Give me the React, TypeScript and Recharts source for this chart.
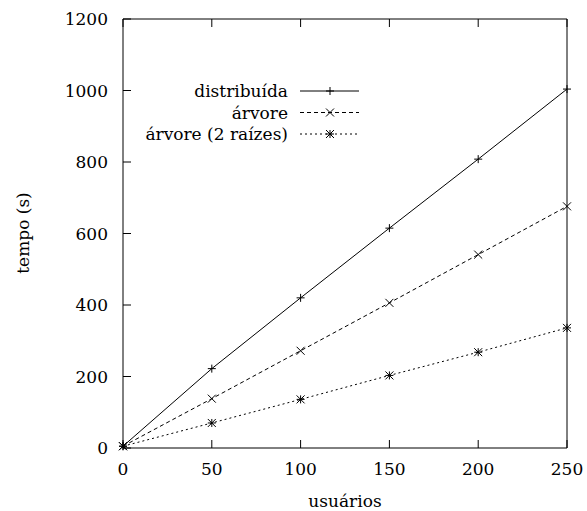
import { LineChart, Line, XAxis, YAxis, Customized } from 'recharts'

const usuarios = [0, 50, 100, 150, 200, 250]
const distribuida = [5, 222, 420, 615, 808, 1004]
const arvore = [5, 138, 272, 406, 541, 676]
const arvore2 = [5, 70, 136, 203, 268, 336]
const xTicks = [0, 50, 100, 150, 200, 250]
const yTicks = [0, 200, 400, 600, 800, 1000, 1200]

const data = usuarios.map((u, i) => ({
  u,
  distribuida: distribuida[i],
  arvore: arvore[i],
  arvore2: arvore2[i],
}))

const FS = 17
const TICK = 8
const txt = { fontFamily: 'DejaVu Serif', fontSize: FS, fill: '#000' }

type Mark = 'plus' | 'cross' | 'star'

function marker(kind: Mark, cx: number, cy: number, key?: string | number) {
  const r = 4
  const plus = (
    <>
      <line x1={cx - r} y1={cy} x2={cx + r} y2={cy} />
      <line x1={cx} y1={cy - r} x2={cx} y2={cy + r} />
    </>
  )
  const cross = (
    <>
      <line x1={cx - r} y1={cy - r} x2={cx + r} y2={cy + r} />
      <line x1={cx - r} y1={cy + r} x2={cx + r} y2={cy - r} />
    </>
  )
  return (
    <g key={key} stroke="#000" strokeWidth={1}>
      {kind !== 'cross' && plus}
      {kind !== 'plus' && cross}
    </g>
  )
}

const dot = (kind: Mark) => (p: any) => marker(kind, p.cx, p.cy, p.index)

function LeftTick(p: any) {
  const ax = p.x + 15
  return (
    <g>
      <line x1={ax} y1={p.y} x2={ax + TICK} y2={p.y} stroke="#000" />
      <text x={p.x} y={p.y} dy="0.355em" textAnchor="end" style={txt}>
        {p.payload.value}
      </text>
    </g>
  )
}

function RightTick(p: any) {
  return <line x1={p.x} y1={p.y} x2={p.x - TICK} y2={p.y} stroke="#000" />
}

function BottomTick(p: any) {
  const ay = p.y - 14
  return (
    <g>
      <line x1={p.x} y1={ay} x2={p.x} y2={ay - TICK} stroke="#000" />
      <text x={p.x} y={p.y} dy="0.78em" textAnchor="middle" style={txt}>
        {p.payload.value}
      </text>
    </g>
  )
}

function TopTick(p: any) {
  return <line x1={p.x} y1={p.y} x2={p.x} y2={p.y + TICK} stroke="#000" />
}

const legendItems: { label: string; dash?: string; kind: Mark }[] = [
  { label: 'distribuída', kind: 'plus' },
  { label: 'árvore', dash: '4 3', kind: 'cross' },
  { label: 'árvore (2 raízes)', dash: '2 3', kind: 'star' },
]

function Extras() {
  return (
    <g>
      <text x={29} y={233} transform="rotate(-90 29 233)" textAnchor="middle" style={txt}>
        tempo (s)
      </text>
      <text x={345} y={507} textAnchor="middle" style={txt}>
        usuários
      </text>
      {legendItems.map((it, i) => {
        const y = 91 + i * 21.5
        return (
          <g key={it.label}>
            <text x={288} y={y} dy="0.355em" textAnchor="end" style={txt}>
              {it.label}
            </text>
            <line x1={300} y1={y} x2={359} y2={y} stroke="#000" strokeDasharray={it.dash} />
            {marker(it.kind, 330, y)}
          </g>
        )
      })}
    </g>
  )
}

export default function App() {
  return (
    <div style={{ width: 587, height: 511 }}>
      <style>{'body{margin:0;background:#fff}'}</style>
      <LineChart width={587} height={511} data={data} margin={{ top: 0, right: 0, bottom: 0, left: 0 }}>
        <XAxis
          xAxisId="b"
          dataKey="u"
          type="number"
          domain={[0, 250]}
          ticks={xTicks}
          height={63}
          tickSize={0}
          tickMargin={14}
          tickLine={false}
          tick={BottomTick}
          axisLine={{ stroke: '#000' }}
        />
        <XAxis
          xAxisId="t"
          dataKey="u"
          type="number"
          orientation="top"
          domain={[0, 250]}
          ticks={xTicks}
          height={19}
          tickSize={0}
          tickMargin={0}
          tickLine={false}
          tick={TopTick}
          axisLine={{ stroke: '#000' }}
        />
        <YAxis
          yAxisId="l"
          type="number"
          domain={[0, 1200]}
          ticks={yTicks}
          width={123}
          tickSize={0}
          tickMargin={15}
          tickLine={false}
          tick={LeftTick}
          axisLine={{ stroke: '#000' }}
        />
        <YAxis
          yAxisId="r"
          orientation="right"
          type="number"
          domain={[0, 1200]}
          ticks={yTicks}
          width={20}
          tickSize={0}
          tickMargin={0}
          tickLine={false}
          tick={RightTick}
          axisLine={{ stroke: '#000' }}
        />
        <Line xAxisId="b" yAxisId="l" dataKey="distribuida" stroke="#000" strokeWidth={1} dot={dot('plus')} isAnimationActive={false} />
        <Line xAxisId="b" yAxisId="l" dataKey="arvore" stroke="#000" strokeWidth={1} strokeDasharray="4 3" dot={dot('cross')} isAnimationActive={false} />
        <Line xAxisId="b" yAxisId="l" dataKey="arvore2" stroke="#000" strokeWidth={1} strokeDasharray="2 3" dot={dot('star')} isAnimationActive={false} />
        <Customized component={Extras} />
      </LineChart>
    </div>
  )
}
